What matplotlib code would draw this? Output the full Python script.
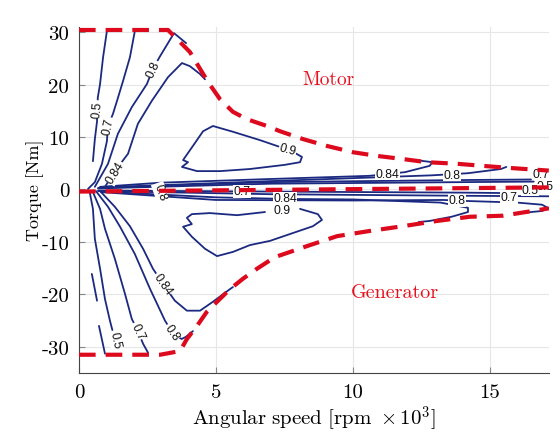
import matplotlib
matplotlib.use('Agg')
import matplotlib.pyplot as plt

plt.rcParams['mathtext.fontset'] = 'cm'
plt.rcParams['axes.unicode_minus'] = False

###############################################################################
# Data (speed in rpm x 10^3, torque in Nm)
motor_speed = [0, 3.25, 3.69, 4.05, 4.42, 4.71, 5.15, 5.62, 6.13, 6.86, 7.34,
               8.18, 9.05, 10.0, 10.88, 11.82, 12.7, 13.8, 14.74, 15.73, 17.15]
motor_torque = [30.4, 30.4, 28.1, 26.2, 23.0, 20.5, 17.2, 14.8, 13.4, 12.1, 11.1,
                9.6, 8.3, 7.1, 6.4, 5.8, 5.2, 4.9, 4.5, 4.1, 3.6]
gen_speed = [0, 2.96, 3.69, 3.94, 4.31, 4.67, 5.04, 5.51, 5.99, 6.50, 7.15,
             8.32, 9.42, 10.62, 11.82, 13.07, 14.27, 15.47, 17.15]
gen_torque = [-31.5, -31.5, -30.8, -28.5, -26.0, -23.3, -21.4, -19.0, -17.0, -15.1, -12.9,
              -10.8, -8.9, -7.9, -7.0, -6.0, -5.2, -5.0, -3.6]
zero_speed = [0, 17.15]
zero_torque = [-0.4, 0.4]

# efficiency contours, motor side (fan near origin)
c05_up_x = [1.02, 0.88, 0.77, 0.69, 0.66, 0.66, 0.58, 0.51]
c05_up_y = [30.2, 25.2, 20.1, 17.6, 15.3, 13.0, 9.6, 5.4]
c07_up_x = [2.04, 1.86, 1.61, 1.39, 1.24, 1.06, 1.02, 0.84, 0.58, 0.33]
c07_up_y = [30.2, 25.2, 20.7, 16.9, 14.4, 12.1, 9.2, 4.9, 1.4, 0.1]
c08_up_x = [3.91, 3.47, 2.96, 2.70, 2.48, 1.93, 1.42, 1.06, 0.58]
c08_up_y = [27.9, 29.8, 25.4, 23.0, 20.1, 15.7, 10.6, 4.9, 0.5]
c084_up_x = [4.6, 4.42, 4.05, 3.76, 3.25, 2.66, 2.15, 1.79, 1.31, 0.95]
c084_up_y = [21.0, 22.0, 23.5, 24.1, 21.4, 16.9, 12.5, 6.8, 3.5, 0.5]
c09_up_x = [7.77, 8.14, 8.07, 7.52, 6.24, 5.15, 4.31, 3.76, 3.98, 3.80, 4.16,
            4.53, 4.89, 5.62, 6.61, 7.45]
c09_up_y = [7.3, 6.2, 5.2, 4.7, 3.9, 3.5, 3.5, 4.3, 5.2, 5.6, 8.3,
            11.1, 12.1, 11.0, 9.4, 7.9]

# efficiency contours, generator side
c05_dn_x = [0.40, 0.51, 0.58, 0.77, 0.95, 1.13, 1.22]
c05_dn_y = [-0.7, -3.7, -9.4, -15.1, -20.9, -25.0, -26.8]
c07_dn_x = [0.51, 0.77, 0.95, 1.31, 1.68, 1.93, 2.12, 2.34, 2.52]
c07_dn_y = [-0.5, -3.7, -7.5, -13.2, -19.9, -24.7, -26.6, -29.4, -31.1]
c08_dn_x = [0.62, 1.06, 1.50, 2.04, 2.59, 3.14, 3.45, 3.75, 3.90, 4.16]
c08_dn_y = [-0.3, -3.3, -7.1, -12.3, -18.9, -25.0, -27.6, -28.5, -28.1, -27.0]
c084_dn_x = [0.77, 1.31, 1.86, 2.34, 2.70, 3.07, 3.50, 3.94, 4.42, 4.89, 5.51, 5.62]
c084_dn_y = [-0.3, -3.3, -7.0, -11.3, -15.1, -18.0, -21.2, -23.1, -23.1, -21.4, -19.0, -18.6]
c09_dn_x = [8.07, 8.72, 8.87, 8.54, 7.81, 6.97, 6.24, 5.62, 5.04, 4.60, 4.12,
            3.80, 4.12, 3.94, 4.12, 4.78, 5.77, 6.79]
c09_dn_y = [-3.7, -4.7, -5.8, -7.0, -8.3, -9.8, -10.6, -11.9, -12.7, -11.3, -9.0,
            -7.1, -6.6, -5.4, -4.7, -4.5, -4.9, -4.3]
seg_a_x = [0.47, 0.66]
seg_a_y = [-16.1, -21.2]
seg_b_x = [0.73, 0.95]
seg_b_y = [-26.0, -31.3]

# bundle of contours around zero torque
b084_up_x = [0.77, 3.0, 7.0, 10.6, 11.9, 12.8, 12.9, 12.3]
b084_up_y = [0.5, 1.3, 2.0, 2.6, 3.3, 4.5, 5.2, 5.6]
b08_up_x = [0.77, 7.0, 12.9, 14.2, 15.4, 15.6]
b08_up_y = [0.4, 1.6, 2.7, 3.1, 3.9, 4.3]
b07_up_x = [0.7, 7.0, 14.0, 16.5]
b07_up_y = [0.3, 1.4, 1.8, 1.9]
b05_up_x = [0.7, 7.0, 14.0, 16.6]
b05_up_y = [0.2, 1.1, 1.4, 1.5]
b05_dn_x = [0.7, 7.0, 14.0, 15.9]
b05_dn_y = [-0.2, -0.4, -0.6, -0.7]
b07_dn_x = [0.7, 7.0, 14.0, 17.15]
b07_dn_y = [-0.3, -0.9, -1.2, -1.3]
b084_dn_x = [0.8, 5.0, 7.5, 10.0, 13.2, 14.2, 14.2, 13.6, 12.8, 12.4]
b084_dn_y = [-0.4, -1.5, -1.8, -1.9, -2.5, -3.5, -4.3, -5.2, -6.0, -6.2]
b08_dn_x = [0.8, 5.0, 10.0, 13.3, 14.2, 16.0, 16.9, 17.15, 16.9, 16.3]
b08_dn_y = [-0.5, -2.0, -2.1, -2.0, -2.2, -2.5, -2.9, -3.6, -4.1, -4.4]

# contour labels
label_text = ['0.5', '0.7', '0.8', '0.84', '0.9', '0.9',
              '0.5', '0.7', '0.8', '0.84',
              '0.8', '0.7', '0.84', '0.8', '0.7', '0.5',
              '0.84', '0.8', '0.5', '0.7']
label_x = [0.66, 1.06, 2.70, 1.33, 7.62, 7.41,
           1.33, 2.14, 3.40, 3.07,
           2.96, 5.95, 11.25, 13.6, 16.85, 17.0,
           7.52, 13.8, 16.45, 15.7]
label_y = [15.3, 12.1, 23.0, 3.2, 7.6, -4.0,
           -28.6, -27.0, -27.2, -18.0,
           -0.4, -0.3, 2.95, 2.8, 3.0, 0.7,
           -1.7, -2.1, -0.1, -1.5]
label_rot = [84, 78, 65, 58, -15, 0,
             -78, -65, -55, -55,
             -70, 0, 0, 0, 0, 0,
             0, 0, 0, 0]

###############################################################################
navy = '#1b2a80'
red = '#dd0a1e'

fig = plt.figure(figsize=(5.6, 4.35), dpi=100)
ax = fig.add_axes([0.141, 0.140, 0.839, 0.796])

contours = [(c05_up_x, c05_up_y), (c07_up_x, c07_up_y), (c08_up_x, c08_up_y),
            (c084_up_x, c084_up_y), (c09_up_x, c09_up_y),
            (c05_dn_x, c05_dn_y), (c07_dn_x, c07_dn_y), (c08_dn_x, c08_dn_y),
            (c084_dn_x, c084_dn_y), (c09_dn_x, c09_dn_y),
            (seg_a_x, seg_a_y), (seg_b_x, seg_b_y),
            (b084_up_x, b084_up_y), (b08_up_x, b08_up_y), (b07_up_x, b07_up_y),
            (b05_up_x, b05_up_y), (b05_dn_x, b05_dn_y), (b07_dn_x, b07_dn_y),
            (b084_dn_x, b084_dn_y), (b08_dn_x, b08_dn_y)]
for cx, cy in contours:
    ax.plot(cx, cy, color=navy, lw=1.3, zorder=2, solid_capstyle='round')

for t, lx, ly, r in zip(label_text, label_x, label_y, label_rot):
    ax.text(lx, ly, t, rotation=r, rotation_mode='anchor', ha='center', va='center',
            fontsize=8.8, family='Liberation Sans', color='#111111', zorder=3,
            bbox=dict(boxstyle='square,pad=0.04', fc='white', ec='none'))

# torque envelope and zero line
dash = (0, (4, 2.4))
ax.plot(motor_speed, motor_torque, color=red, lw=3, linestyle=dash, zorder=4)
ax.plot(gen_speed, gen_torque, color=red, lw=3, linestyle=dash, zorder=4)
ax.plot(zero_speed, zero_torque, color=red, lw=3, linestyle=dash, zorder=4)

ax.text(9.09, 21.0, 'Motor', family='cmr10', color='#e8101e', fontsize=14,
        ha='center', va='center')
ax.text(11.53, -19.5, 'Generator', family='cmr10', color='#e8101e', fontsize=14.5,
        ha='center', va='center')

# axes formatting
ax.set_xlim(0, 17.15)
ax.set_ylim(-35, 31)
xt = [0, 5, 10, 15]
yt = [-30, -20, -10, 0, 10, 20, 30]
ax.set_xticks(xt, labels=[str(v) for v in xt])
ax.set_yticks(yt, labels=[str(v) for v in yt])
for lab in ax.get_xticklabels() + ax.get_yticklabels():
    lab.set_family('cmr10')
ax.tick_params(direction='in', length=4, color='#888888', labelsize=15, pad=7)
ax.grid(True, color='#e6e6e6', lw=0.8, zorder=0)
ax.set_axisbelow(True)
for s in ['top', 'right']:
    ax.spines[s].set_visible(False)
for s in ['left', 'bottom']:
    ax.spines[s].set_color('#444444')
ax.set_xlabel(r'$\mathrm{Angular\ speed\ [rpm\ }\times 10^3\mathrm{]}$', fontsize=15, labelpad=2)
ax.set_ylabel('Torque [Nm]', family='cmr10', fontsize=13)
ax.yaxis.set_label_coords(-0.075, 0.53)

fig.savefig('out.png', dpi=100)
